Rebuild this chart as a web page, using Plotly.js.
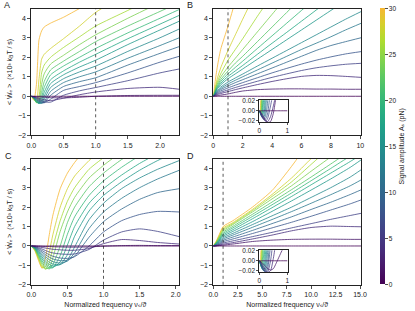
<!DOCTYPE html>
<html><head><meta charset="utf-8">
<script src="https://cdn.plot.ly/plotly-3.0.1.min.js"></script>
<style>html,body{margin:0;padding:0;background:#fff}#chart{width:415px;height:311px}</style>
</head><body><div id="chart"></div>
<script>
// Signal amplitudes (pN), one curve each
const amplitudes = [0,2,4,6,8,10,12,14,16,18,20,22,24,26,28,30];

// Panel A
const xA = [0,0.04,0.08,0.12,0.16,0.2,0.3,0.5,0.75,1.0,1.5,2.0,2.3];
const wA = [
 [0,0,0,0,0,0,0,0,0,0,0,0,0],
 [0,-0.01,-0.02,-0.03,-0.04,-0.05,-0.07,-0.08,-0.05,0.0,0.04,0.05,0.05],
 [0,-0.02,-0.05,-0.1,-0.14,-0.18,-0.22,-0.1,0.08,0.22,0.4,0.46,0.36],
 [0,-0.03,-0.08,-0.15,-0.22,-0.28,-0.3,0.05,0.28,0.45,0.8,1.2,1.4],
 [0,-0.04,-0.11,-0.2,-0.28,-0.33,-0.15,0.3,0.5,0.7,1.2,1.75,2.05],
 [0,-0.05,-0.14,-0.25,-0.33,-0.33,0.05,0.5,0.75,0.95,1.6,2.2,2.55],
 [0,-0.06,-0.17,-0.3,-0.36,-0.28,0.25,0.7,1.0,1.25,1.95,2.6,3.0],
 [0,-0.07,-0.2,-0.34,-0.35,-0.15,0.45,0.9,1.25,1.55,2.3,3.0,3.45],
 [0,-0.08,-0.24,-0.37,-0.3,0.0,0.65,1.1,1.5,1.85,2.65,3.4,3.85],
 [0,-0.09,-0.27,-0.37,-0.2,0.2,0.85,1.3,1.75,2.15,2.95,3.7,4.15],
 [0,-0.1,-0.3,-0.35,-0.05,0.45,1.1,1.55,2.0,2.45,3.25,4.0,4.45],
 [0,-0.11,-0.32,-0.3,0.2,0.75,1.35,1.8,2.3,2.8,3.6,4.35,4.8],
 [0,-0.12,-0.33,-0.2,0.6,1.15,1.65,2.1,2.65,3.15,4.0,4.8,5.3],
 [0,-0.13,-0.32,0.0,1.2,1.6,2.0,2.5,3.05,3.6,4.4,5.2,5.7],
 [0,-0.15,-0.3,0.9,1.9,2.15,2.45,2.95,3.6,4.3,5.3,6.3,6.9],
 [0,-0.2,0.6,2.9,3.35,3.55,3.75,4.05,4.5,4.95,5.8,6.6,7.1]
];

// Panel B
const xB = [0,0.1,0.25,0.5,1,1.5,2,3,4,5,6,7,8,9,10.05];
const wB = [
 [0,0,0,0,0,0,0,0,0,0,0,0,0,0,0],
 [0,0.01,0.03,0.06,0.12,0.2,0.27,0.34,0.37,0.38,0.38,0.37,0.37,0.36,0.36],
 [0,0.03,0.08,0.14,0.24,0.34,0.43,0.6,0.76,0.9,1.02,1.07,1.06,1.02,0.97],
 [0,0.05,0.12,0.2,0.33,0.45,0.56,0.77,0.97,1.15,1.32,1.46,1.56,1.64,1.69],
 [0,0.06,0.16,0.27,0.43,0.57,0.7,0.95,1.2,1.43,1.65,1.85,2.02,2.17,2.29],
 [0,0.08,0.2,0.34,0.53,0.7,0.85,1.15,1.45,1.75,2.05,2.35,2.6,2.8,3.0],
 [0,0.09,0.24,0.4,0.63,0.82,1.0,1.35,1.7,2.05,2.4,2.72,3.05,3.4,3.74],
 [0,0.1,0.28,0.47,0.73,0.94,1.14,1.55,1.95,2.35,2.75,3.15,3.55,3.95,4.34],
 [0,0.13,0.35,0.58,0.9,1.15,1.4,1.9,2.4,2.9,3.4,3.9,4.4,4.9,5.4],
 [0,0.15,0.4,0.66,1.02,1.3,1.58,2.15,2.72,3.28,3.85,4.42,5.0,5.55,6.1],
 [0,0.18,0.45,0.75,1.15,1.48,1.8,2.45,3.1,3.75,4.4,5.05,5.7,6.35,7.0],
 [0,0.2,0.52,0.85,1.3,1.7,2.05,2.8,3.55,4.3,5.05,5.8,6.55,7.3,8.1],
 [0,0.24,0.6,0.98,1.5,1.95,2.4,3.3,4.2,5.1,6.0,6.9,7.8,8.7,9.6],
 [0,0.28,0.7,1.15,1.85,2.4,2.95,4.1,5.2,6.3,7.4,8.5,9.6,10.7,11.8],
 [0,0.35,0.85,1.45,2.35,3.15,3.95,5.5,7,8.5,10,11.5,13,14.5,16],
 [0,0.6,1.4,2.4,3.6,4.9,6.3,9,11.5,14,16.5,19,21.5,24,26.5]
];

// Panel C
const xC = [0,0.05,0.1,0.15,0.2,0.25,0.3,0.4,0.5,0.6,0.8,1.0,1.25,1.5,1.75,2.05];
const wC = [
 [0,0,0,0,0,0,0,0,0,0,0,0,0,0,0,0],
 [0,0,-0.01,-0.02,-0.03,-0.03,-0.04,-0.05,-0.06,-0.06,-0.05,-0.01,0.02,0.03,0.02,0.02],
 [0,-0.01,-0.04,-0.08,-0.11,-0.14,-0.17,-0.2,-0.22,-0.22,-0.13,0.12,0.33,0.28,0.18,0.1],
 [0,-0.03,-0.09,-0.16,-0.24,-0.31,-0.36,-0.41,-0.43,-0.41,-0.18,0.3,0.72,0.88,0.75,0.48],
 [0,-0.04,-0.13,-0.24,-0.35,-0.45,-0.53,-0.62,-0.64,-0.55,0.0,0.72,1.3,1.62,1.78,1.75],
 [0,-0.05,-0.18,-0.32,-0.46,-0.58,-0.67,-0.76,-0.73,-0.52,0.45,1.25,1.9,2.4,2.75,2.95],
 [0,-0.07,-0.22,-0.4,-0.57,-0.71,-0.81,-0.88,-0.78,-0.35,0.9,1.75,2.45,3.0,3.45,3.9],
 [0,-0.08,-0.27,-0.48,-0.68,-0.84,-0.93,-0.96,-0.72,-0.05,1.35,2.2,2.95,3.5,3.95,4.4],
 [0,-0.1,-0.32,-0.57,-0.8,-0.95,-1.03,-0.95,-0.45,0.5,1.8,2.6,3.3,3.9,4.4,4.9],
 [0,-0.12,-0.38,-0.67,-0.9,-1.05,-1.1,-0.82,0.05,1.0,2.2,2.95,3.65,4.25,4.75,5.25],
 [0,-0.14,-0.44,-0.77,-1.0,-1.13,-1.12,-0.5,0.6,1.5,2.6,3.35,4.05,4.65,5.15,5.7],
 [0,-0.16,-0.5,-0.86,-1.1,-1.18,-0.95,0.0,1.2,2.0,3.05,3.75,4.45,5.05,5.6,6.2],
 [0,-0.18,-0.55,-0.95,-1.17,-1.12,-0.6,0.75,1.75,2.5,3.5,4.15,4.85,5.5,6.1,6.8],
 [0,-0.2,-0.62,-1.05,-1.2,-0.85,-0.05,1.3,2.3,3.0,3.95,4.55,5.3,6.0,6.7,7.5],
 [0,-0.22,-0.68,-1.12,-1.05,-0.3,0.6,2.0,2.95,3.6,4.4,5.1,6.0,6.9,7.8,8.8],
 [0,-0.25,-0.75,-1.15,-0.55,0.6,1.6,2.95,3.75,4.3,5.2,6.0,7.0,8.0,9.0,10.0]
];

// Panel D
const xD = [0,0.3,0.6,1,2,4,6,8,10,12,14,15.1];
const wD = [
 [0,0,0,0,0,0,0,0,0,0,0,0],
 [0,0.0,0.02,0.04,0.1,0.23,0.3,0.34,0.35,0.35,0.34,0.34],
 [0,0.01,0.04,0.09,0.17,0.36,0.56,0.78,0.95,1.02,1.0,0.99],
 [0,0.02,0.07,0.15,0.26,0.48,0.7,0.93,1.15,1.37,1.57,1.68],
 [0,0.03,0.1,0.22,0.36,0.64,0.93,1.22,1.53,1.85,2.17,2.37],
 [0,0.05,0.14,0.29,0.46,0.8,1.15,1.5,1.88,2.25,2.65,2.89],
 [0,0.06,0.18,0.36,0.56,0.96,1.36,1.77,2.2,2.64,3.1,3.4],
 [0,0.08,0.22,0.43,0.65,1.1,1.55,2.0,2.5,3.0,3.55,3.92],
 [0,0.1,0.26,0.5,0.75,1.25,1.78,2.32,2.88,3.45,4.05,4.43],
 [0,0.12,0.3,0.57,0.84,1.4,1.97,2.55,3.15,3.75,4.35,4.7],
 [0,0.14,0.34,0.64,0.93,1.52,2.12,2.73,3.36,3.99,4.63,4.98],
 [0,0.16,0.39,0.71,1.01,1.63,2.26,2.9,3.55,4.22,4.9,5.3],
 [0,0.18,0.43,0.78,1.1,1.75,2.42,3.1,3.85,4.58,5.3,5.7],
 [0,0.2,0.47,0.85,1.15,1.82,2.55,3.3,4.2,5.1,6.0,6.5],
 [0,0.22,0.52,0.92,1.2,1.88,2.65,3.5,4.5,5.5,6.5,7.0],
 [0,0.25,0.58,1.0,1.3,2.0,2.85,4.1,5.5,7.0,8.5,9.3]
];

// Insets (zoom near the origin) for B and D
const xIn = [0,0.025,0.05,0.075,0.1,0.15,0.2,0.25,0.3,0.4,0.5,0.6,0.8,1.0];
const wBin = [
 [0,0,0,0,0,0,0,0,0,0,0,0,0,0],
 [0,-0.001,-0.003,-0.005,-0.007,-0.012,-0.017,-0.021,-0.024,-0.022,-0.005,0.03,0.1,0.2],
 [0,-0.002,-0.004,-0.007,-0.01,-0.015,-0.02,-0.022,-0.022,-0.012,0.01,0.035,0.07,0.09],
 [0,-0.002,-0.005,-0.009,-0.012,-0.017,-0.02,-0.02,-0.015,0.01,0.04,0.07,0.1,0.13],
 [0,-0.002,-0.006,-0.01,-0.013,-0.017,-0.018,-0.014,-0.004,0.04,0.07,0.1,0.14,0.18],
 [0,-0.003,-0.007,-0.01,-0.013,-0.016,-0.014,-0.003,0.02,0.07,0.1,0.13,0.18,0.23],
 [0,-0.003,-0.007,-0.01,-0.013,-0.014,-0.007,0.02,0.05,0.1,0.13,0.17,0.23,0.3],
 [0,-0.003,-0.007,-0.01,-0.012,-0.011,0.01,0.05,0.08,0.13,0.17,0.21,0.29,0.37],
 [0,-0.003,-0.007,-0.01,-0.011,-0.003,0.04,0.08,0.11,0.16,0.21,0.26,0.36,0.45],
 [0,-0.003,-0.007,-0.009,-0.008,0.02,0.07,0.11,0.14,0.2,0.26,0.32,0.43,0.54],
 [0,-0.003,-0.007,-0.008,-0.002,0.05,0.1,0.13,0.17,0.24,0.31,0.38,0.52,0.65],
 [0,-0.003,-0.006,-0.004,0.02,0.08,0.12,0.16,0.21,0.29,0.37,0.45,0.62,0.78],
 [0,-0.003,-0.005,0.005,0.04,0.1,0.15,0.2,0.25,0.35,0.45,0.55,0.75,0.95],
 [0,-0.003,-0.003,0.02,0.06,0.12,0.18,0.24,0.3,0.42,0.55,0.68,0.92,1.15],
 [0,-0.003,0.0,0.04,0.08,0.15,0.22,0.3,0.38,0.54,0.7,0.85,1.15,1.45],
 [0,-0.002,0.02,0.06,0.1,0.2,0.3,0.4,0.5,0.7,0.9,1.1,1.5,1.9]
];
const wDin = [
 [0,0,0,0,0,0,0,0,0,0,0,0,0,0],
 [0,-0.001,-0.002,-0.003,-0.004,-0.007,-0.01,-0.013,-0.016,-0.019,-0.016,-0.005,0.02,0.04],
 [0,-0.001,-0.003,-0.005,-0.007,-0.012,-0.017,-0.021,-0.024,-0.02,0.005,0.04,0.08,0.09],
 [0,-0.002,-0.004,-0.007,-0.01,-0.016,-0.021,-0.024,-0.023,0.0,0.045,0.08,0.13,0.15],
 [0,-0.002,-0.005,-0.009,-0.012,-0.018,-0.022,-0.023,-0.016,0.03,0.08,0.12,0.18,0.22],
 [0,-0.003,-0.006,-0.01,-0.014,-0.02,-0.022,-0.018,-0.004,0.06,0.11,0.16,0.23,0.29],
 [0,-0.003,-0.007,-0.011,-0.015,-0.02,-0.019,-0.008,0.02,0.09,0.15,0.2,0.29,0.36],
 [0,-0.003,-0.008,-0.012,-0.016,-0.019,-0.013,0.01,0.05,0.12,0.18,0.24,0.34,0.43],
 [0,-0.004,-0.009,-0.013,-0.016,-0.016,0.0,0.04,0.08,0.15,0.22,0.29,0.4,0.5],
 [0,-0.004,-0.009,-0.013,-0.015,-0.007,0.025,0.07,0.11,0.19,0.26,0.33,0.46,0.57],
 [0,-0.004,-0.009,-0.012,-0.011,0.01,0.05,0.1,0.14,0.22,0.3,0.38,0.52,0.64],
 [0,-0.004,-0.009,-0.01,-0.004,0.035,0.08,0.12,0.17,0.26,0.35,0.44,0.58,0.71],
 [0,-0.004,-0.008,-0.006,0.01,0.06,0.1,0.15,0.2,0.3,0.4,0.5,0.64,0.78],
 [0,-0.004,-0.006,0.0,0.03,0.08,0.13,0.19,0.24,0.35,0.46,0.56,0.7,0.85],
 [0,-0.004,-0.003,0.02,0.05,0.1,0.16,0.22,0.28,0.4,0.52,0.63,0.78,0.92],
 [0,-0.003,0.01,0.04,0.07,0.13,0.2,0.26,0.32,0.45,0.58,0.7,0.85,1.0]
];

const refFreq = 1; // dotted reference line at nu_s/theta = 1
const ampMin = 0, ampMax = 30;

// ---------- styling ----------
const W = 415, H = 311;
const FONT = 'Liberation Sans, Arial, Helvetica, DejaVu Sans, sans-serif';
const TXT = '#222';
const cscale = [[0,'#440154'],[0.0627,'#48186a'],[0.1255,'#472d7b'],[0.1882,'#424086'],[0.251,'#3b528b'],[0.3137,'#33638d'],[0.3765,'#2c728e'],[0.4392,'#26828e'],[0.502,'#21918c'],[0.5647,'#1fa088'],[0.6275,'#28ae80'],[0.6902,'#3fbc73'],[0.7529,'#5ec962'],[0.8157,'#84d44b'],[0.8784,'#addc30'],[0.9412,'#d6cf2c'],[1,'#f7b733']];
function hex2rgb(h){return [parseInt(h.slice(1,3),16),parseInt(h.slice(3,5),16),parseInt(h.slice(5,7),16)];}
function colorAt(v){
  const t = (v-ampMin)/(ampMax-ampMin);
  for(let i=1;i<cscale.length;i++){
    if(t<=cscale[i][0]+1e-9){
      const a=cscale[i-1],b=cscale[i];
      const f=(t-a[0])/(b[0]-a[0]);
      const ca=hex2rgb(a[1]),cb=hex2rgb(b[1]);
      return 'rgb('+ca.map((c,k)=>Math.round(c+(cb[k]-c)*f)).join(',')+')';
    }
  }
  return cscale[cscale.length-1][1];
}
const fx = p => p/W, fy = p => 1-p/H;

const traces = [];
function addCurves(xs, rows, xa, ya, width){
  for(let i=rows.length-1;i>=0;i--){
    traces.push({type:'scatter', mode:'lines', x:xs, y:rows[i], xaxis:xa, yaxis:ya,
      line:{color:colorAt(amplitudes[i]), width:width, shape:'spline', smoothing:0.6},
      hoverinfo:'skip', showlegend:false});
  }
}
addCurves(xA, wA, 'x', 'y', 0.8);
addCurves(xB, wB, 'x2', 'y2', 0.8);
addCurves(xC, wC, 'x3', 'y3', 0.8);
addCurves(xD, wD, 'x4', 'y4', 0.8);
addCurves(xIn, wBin, 'x5', 'y5', 0.75);
addCurves(xIn, wDin, 'x6', 'y6', 0.75);

// colour bar carrier
traces.push({type:'scatter', mode:'markers', x:[null], y:[null], xaxis:'x', yaxis:'y', hoverinfo:'skip', showlegend:false,
  marker:{color:[ampMin], cmin:ampMin, cmax:ampMax, colorscale:cscale, showscale:true, size:1,
    colorbar:{x:fx(380), xanchor:'left', y:fy(8.3), yanchor:'top', len:(284-8.3)/H, lenmode:'fraction',
      thickness:5, thicknessmode:'pixels', outlinewidth:0, ticks:'outside', ticklen:3, tickwidth:0.8, tickcolor:TXT,
      tickvals:[0,5,10,15,20,25,30], tickfont:{size:6.5, color:TXT, family:FONT}, xpad:0, ypad:0,
      title:{text:'Signal amplitude Aₛ (pN)', side:'right', font:{size:7, color:TXT, family:FONT}}}}});

function ax(extra){
  return Object.assign({showline:true, mirror:true, linecolor:TXT, linewidth:1, ticks:'outside', ticklen:3,
    tickwidth:0.8, tickcolor:TXT, showgrid:false, zeroline:false, tickfont:{size:7, color:TXT, family:FONT}, fixedrange:true}, extra);
}
const yTitle = {text:'&lt; Ẇₑ &gt;  (×10³ k<sub>B</sub>T / s)', font:{size:7, color:TXT, family:FONT}, standoff:4};
const xTitle = {text:'Normalized frequency νₛ/ϑ', font:{size:7, color:TXT, family:FONT}, standoff:4};

const colL = [fx(31.3), fx(179.3)], colR = [fx(213.3), fx(361)];
const rowT = [fy(135.3), fy(8.5)], rowB = [fy(284.8), fy(158.6)];
const yr = [-2, 4.5];
const inFont = {size:6.5, color:TXT, family:FONT};

const layout = {
  width:W, height:H, margin:{l:0,r:0,t:0,b:0}, paper_bgcolor:'#fff', plot_bgcolor:'rgba(0,0,0,0)',
  showlegend:false, font:{family:FONT, size:7, color:TXT},
  xaxis: ax({domain:colL, anchor:'y', range:[0,2.3], dtick:0.5, tickformat:'.1f'}),
  yaxis: ax({domain:rowT, anchor:'x', range:yr, dtick:1, title:yTitle}),
  xaxis2: ax({domain:colR, anchor:'y2', range:[0,10.05], dtick:2}),
  yaxis2: ax({domain:rowT, anchor:'x2', range:yr, dtick:1}),
  xaxis3: ax({domain:colL, anchor:'y3', range:[0,2.05], dtick:0.5, tickformat:'.1f', title:xTitle}),
  yaxis3: ax({domain:rowB, anchor:'x3', range:yr, dtick:1, title:yTitle}),
  xaxis4: ax({domain:colR, anchor:'y4', range:[0,15.1], dtick:2.5, tickformat:'.1f', title:xTitle}),
  yaxis4: ax({domain:rowB, anchor:'x4', range:yr, dtick:1}),
  xaxis5: ax({domain:[fx(259.3), fx(287.7)], anchor:'y5', range:[0,1.01], tickvals:[0,1], ticklen:2, tickfont:inFont}),
  yaxis5: ax({domain:[fy(122), fy(100.2)], anchor:'x5', range:[-0.0228,0.0215], tickvals:[-0.02,0,0.02], tickformat:'.2f', ticklen:2, tickfont:inFont}),
  xaxis6: ax({domain:[fx(259.3), fx(287.7)], anchor:'y6', range:[0,1.01], tickvals:[0,1], ticklen:2, tickfont:inFont}),
  yaxis6: ax({domain:[fy(272), fy(250.2)], anchor:'x6', range:[-0.0228,0.0215], tickvals:[-0.02,0,0.02], tickformat:'.2f', ticklen:2, tickfont:inFont}),
  shapes: [['x','y'],['x2','y2'],['x3','y3'],['x4','y4']].map(([xa,ya])=>({type:'line', xref:xa, yref:ya+' domain', x0:refFreq, x1:refFreq, y0:0, y1:1, line:{color:'#111', width:0.7, dash:'dot'}, layer:'above'})),
  annotations: [['A',7,5],['B',190,5],['C',8,156],['D',190,156]].map(([t,px,py])=>({text:t, xref:'paper', yref:'paper', x:fx(px), y:fy(py), xanchor:'center', yanchor:'middle', showarrow:false, font:{size:9, color:TXT, family:FONT}}))
};

Plotly.newPlot('chart', traces, layout, {staticPlot:true, displayModeBar:false});
</script>
</body></html>
